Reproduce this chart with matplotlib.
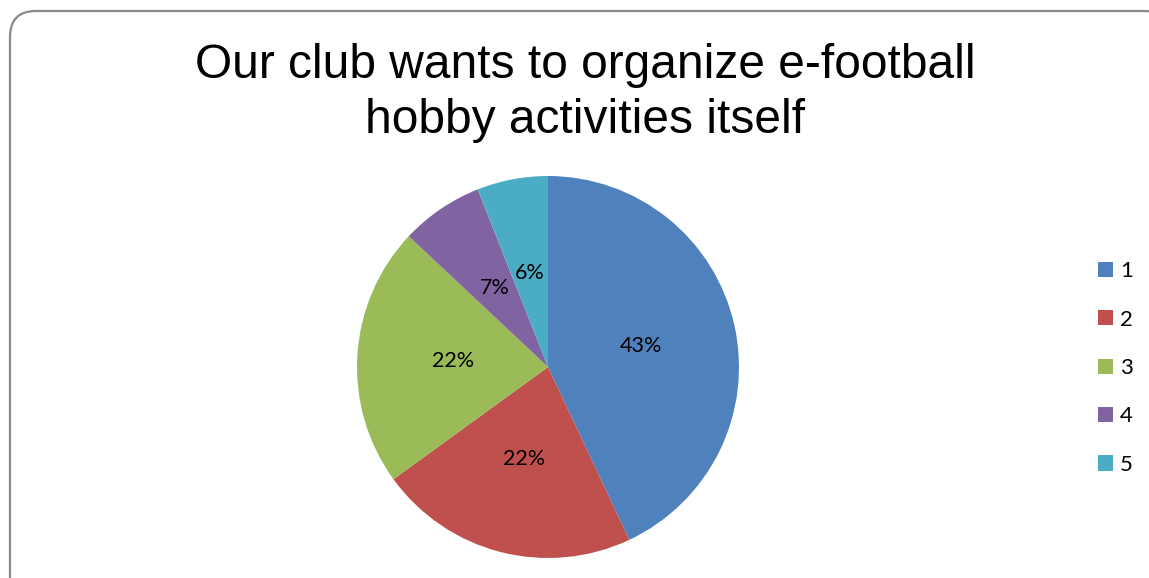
import matplotlib.pyplot as plt
from matplotlib.patches import FancyBboxPatch

title = "Our club wants to organize e-football\nhobby activities itself"
categories = ["1", "2", "3", "4", "5"]
shares = [43, 22, 22, 7, 6]
colors = ["#4F81BD", "#C0504D", "#9BBB59", "#8064A2", "#4BACC6"]

W, H = 1149, 578
fig = plt.figure(figsize=(W / 100, H / 100), dpi=100)

# background axis in pixel units for the rounded frame
bg = fig.add_axes([0, 0, 1, 1])
bg.set_xlim(0, W)
bg.set_ylim(H, 0)
bg.axis('off')
frame = FancyBboxPatch((10, 11), 1160, 600, boxstyle="round,pad=0,rounding_size=26",
                       facecolor='white', edgecolor='#8a8a8a', linewidth=1.6)
bg.add_patch(frame)

bg.text(585, 93, title, ha='center', va='center', fontsize=34.5,
        family='Liberation Sans', color='black', linespacing=1.3)

# pie centre (548, 367), radius 191 px
cx, cy, r = 548, 367, 191
ax = fig.add_axes([(cx - r) / W, (H - cy - r) / H, 2 * r / W, 2 * r / H])
wedges, texts, autotexts = ax.pie(shares, colors=colors, startangle=90, counterclock=False,
                                  autopct=lambda p: f"{p:.0f}%", pctdistance=0.5,
                                  wedgeprops=dict(linewidth=0),
                                  textprops=dict(fontsize=15.5, family='Lato', color='black'))
ax.set_xlim(-1, 1)
ax.set_ylim(-1, 1)
ax.set_aspect('equal')

fig.legend(wedges, categories, loc='center left', bbox_to_anchor=(1098 / W, 1 - 368 / H),
           frameon=False, borderpad=0, borderaxespad=0, handlelength=0.68, handleheight=0.68,
           handletextpad=0.3, labelspacing=1.28, prop=dict(family='Lato', size=16))

plt.savefig('out.png', dpi=100)
